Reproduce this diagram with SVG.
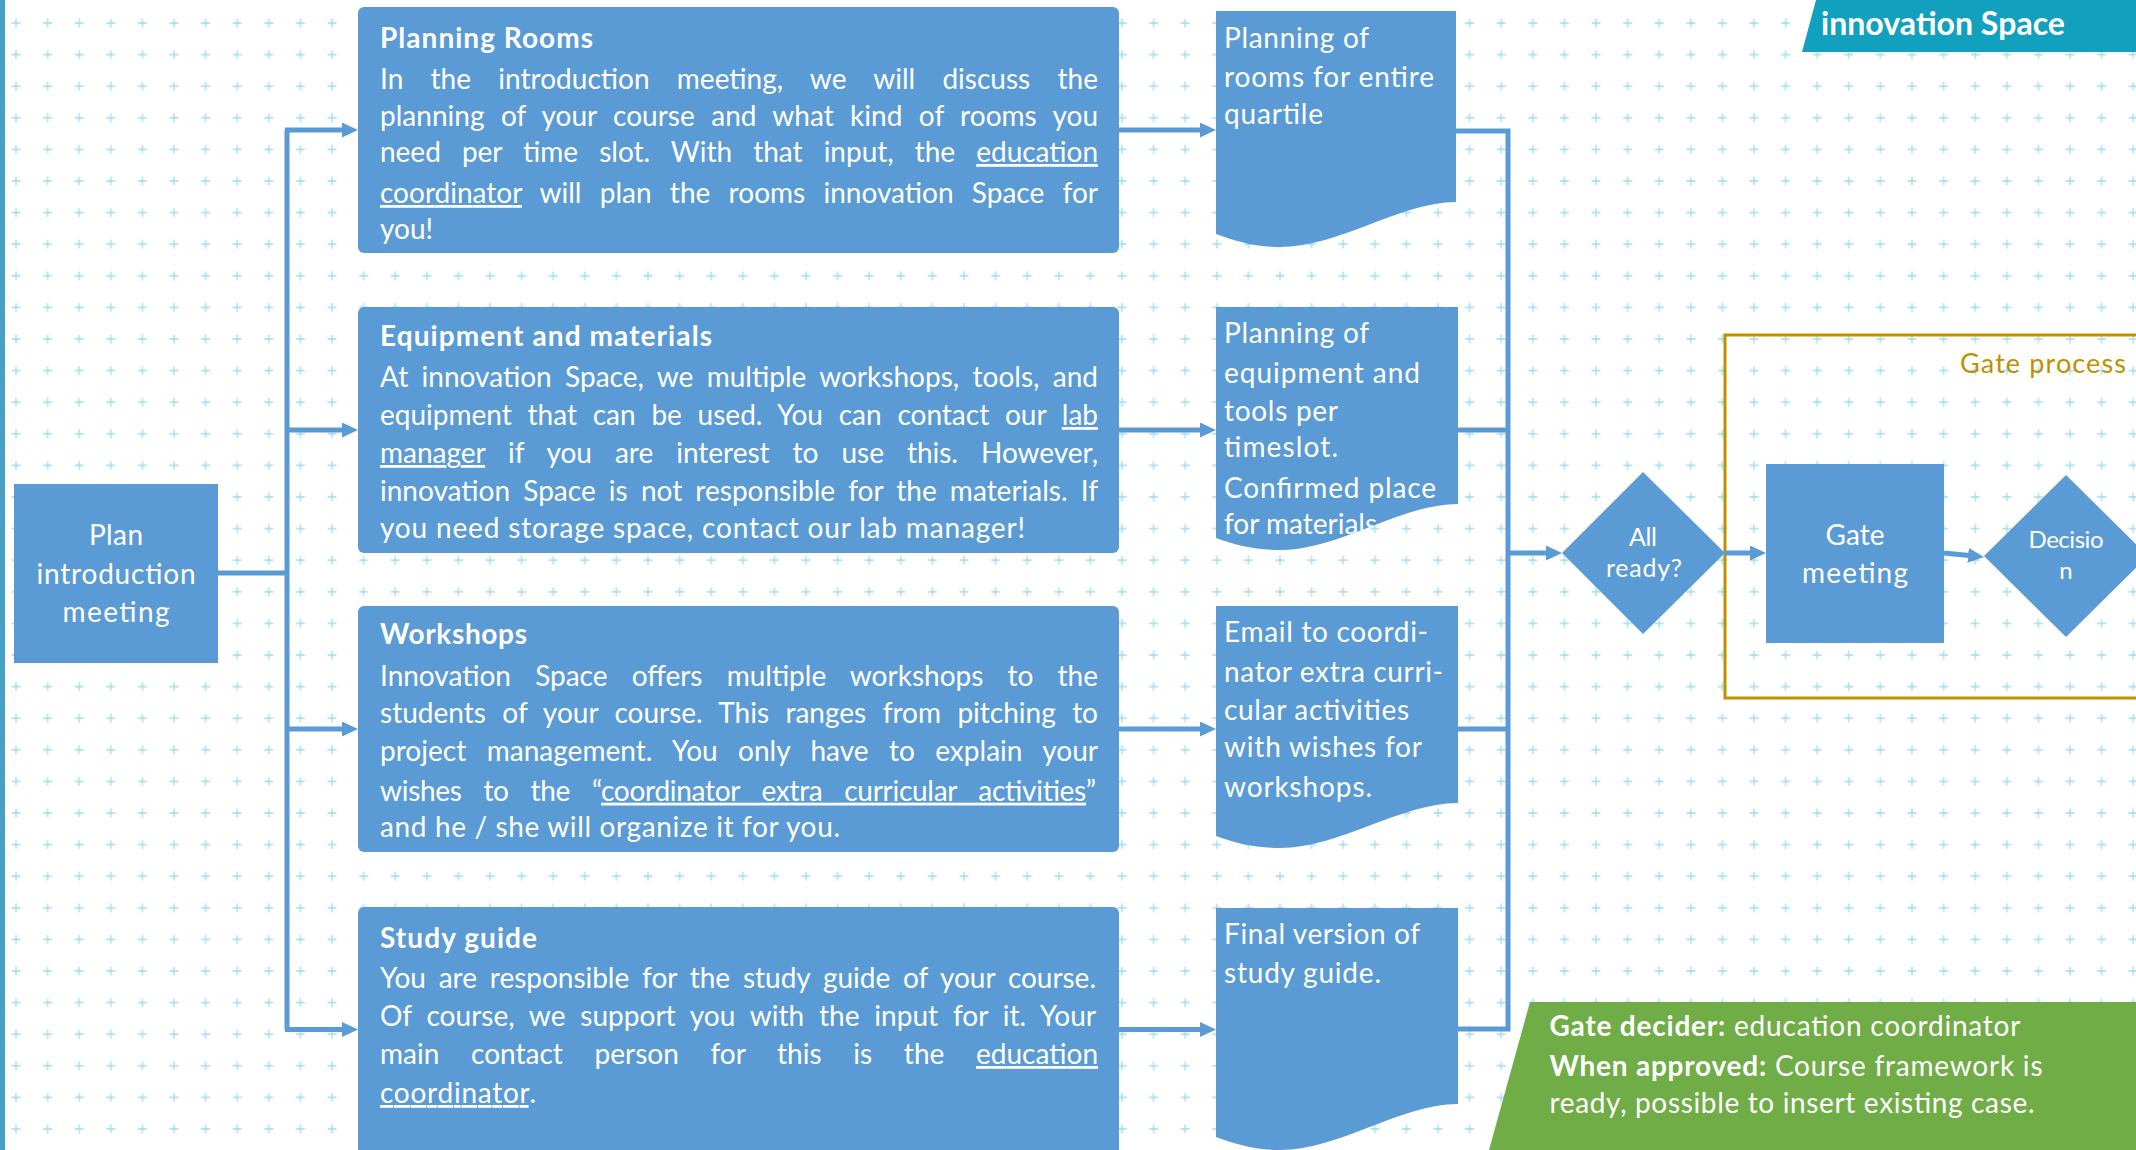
<svg xmlns="http://www.w3.org/2000/svg" width="2136" height="1150" viewBox="0 0 2136 1150">
<style>
.t{font-family:Lato,"Liberation Sans",sans-serif;font-size:28px;fill:#fff}
.b{font-weight:bold}
.c{text-anchor:middle}
.u{text-decoration:underline}
.box{fill:#5b9bd5}
.ln{fill:none;stroke:#5b9bd5;stroke-width:5}
.ar{marker-end:url(#ah)}
</style>
<defs>
<pattern id="grid" x="0.2" y="7.2" width="31.6" height="31.6" patternUnits="userSpaceOnUse">
<path d="M11.3,15.8H20.3M15.8,11.3V20.3" stroke="#9fdcf0" stroke-width="1.3" fill="none"/>
</pattern>
<marker id="ah" markerUnits="userSpaceOnUse" markerWidth="16" markerHeight="15" refX="6" refY="7.5" orient="auto">
<path d="M0,0L16,7.5L0,15Z" fill="#5b9bd5"/>
</marker>
<clipPath id="cd2"><path d="M1216,307H1458V504C1400,504 1340,550 1280,550C1255,550 1235,545 1216,538Z"/></clipPath>
</defs>
<rect width="2136" height="1150" fill="#fff"/>
<rect width="2136" height="1150" fill="url(#grid)"/>
<rect x="0" y="0" width="5" height="1150" fill="#46a0c4"/>

<g id="banner">
<polygon points="1816,0 2136,0 2136,52 1802,52" fill="#12a0bf"/>
<text class="t b" x="1821" y="35" style="font-size:32px" textLength="244" lengthAdjust="spacingAndGlyphs">innovation Space</text>
</g>

<g id="gate-process">
<rect x="1725" y="335" width="500" height="363" fill="none" stroke="#bf9000" stroke-width="3"/>
<text class="t" x="1960" y="373" style="fill:#bf9000;font-size:27px" textLength="166">Gate process</text>
</g>

<g id="connectors">
<path class="ln" d="M218,573H287"/>
<path class="ln" d="M287,130V1030"/>
<path class="ln ar" d="M285,130H348"/>
<path class="ln ar" d="M285,430H348"/>
<path class="ln ar" d="M285,729H348"/>
<path class="ln ar" d="M285,1029.5H348"/>
<path class="ln ar" d="M1119,130H1206"/>
<path class="ln ar" d="M1119,430H1206"/>
<path class="ln ar" d="M1119,729H1206"/>
<path class="ln ar" d="M1119,1029.5H1206"/>
<path class="ln" d="M1456,131H1508V1029H1458"/>
<path class="ln" d="M1458,430H1508"/>
<path class="ln" d="M1458,729H1508"/>
<path class="ln ar" d="M1506,553H1552"/>
<path class="ln ar" d="M1725,553H1756"/>
<path class="ln ar" d="M1944,553L1974,556"/>
</g>

<g id="plan-intro">
<rect class="box" x="14" y="484" width="204" height="179"/>
<text class="t c" x="116" y="545" textLength="54">Plan</text>
<text class="t c" x="116" y="584" textLength="159">introduction</text>
<text class="t c" x="116" y="622" textLength="107">meeting</text>
</g>

<g id="planning-rooms">
<rect class="box" x="358" y="7" width="761" height="246" rx="6"/>
<text class="t b" x="380" y="48" textLength="213">Planning Rooms</text>
<text class="t" x="380" y="89" style="word-spacing:20.1px" textLength="718">In the introduction meeting, we will discuss the</text>
<text class="t" x="380" y="125.5" style="word-spacing:9.2px" textLength="718">planning of your course and what kind of rooms you</text>
<text class="t" x="380" y="162" style="word-spacing:14px" textLength="718">need per time slot. With that input, the <tspan class="u">education</tspan></text>
<text class="t" x="380" y="203" style="word-spacing:11.1px" textLength="718"><tspan class="u">coordinator</tspan> will plan the rooms innovation Space for</text>
<text class="t" x="380" y="239">you!</text>
</g>

<g id="equipment">
<rect class="box" x="358" y="307" width="761" height="246" rx="6"/>
<text class="t b" x="380" y="346" textLength="332">Equipment and materials</text>
<text class="t" x="380" y="387" style="word-spacing:6.2px" textLength="718">At innovation Space, we multiple workshops, tools, and</text>
<text class="t" x="380" y="425" style="word-spacing:8.6px" textLength="718">equipment that can be used. You can contact our <tspan class="u">lab</tspan></text>
<text class="t" x="380" y="463" style="word-spacing:15.9px" textLength="718"><tspan class="u">manager</tspan> if you are interest to use this. However,</text>
<text class="t" x="380" y="500.5" style="word-spacing:6px" textLength="718">innovation Space is not responsible for the materials. If</text>
<text class="t" x="380" y="538" textLength="645">you need storage space, contact our lab manager!</text>
</g>

<g id="workshops">
<rect class="box" x="358" y="606" width="761" height="246" rx="6"/>
<text class="t b" x="380" y="644" textLength="147">Workshops</text>
<text class="t" x="380" y="686" style="word-spacing:17px" textLength="718">Innovation Space offers multiple workshops to the</text>
<text class="t" x="380" y="723" style="word-spacing:9.2px" textLength="718">students of your course. This ranges from pitching to</text>
<text class="t" x="380" y="760.5" style="word-spacing:13.2px" textLength="718">project management. You only have to explain your</text>
<text class="t" x="380" y="800.7" style="word-spacing:14.9px" textLength="716">wishes to the “<tspan class="u">coordinator extra curricular activities</tspan>”</text>
<text class="t" x="380" y="837" textLength="460">and he / she will organize it for you.</text>
</g>

<g id="study-guide">
<rect class="box" x="358" y="907" width="761" height="260" rx="6"/>
<text class="t b" x="380" y="948" textLength="157">Study guide</text>
<text class="t" x="380" y="988" style="word-spacing:5.7px" textLength="716">You are responsible for the study guide of your course.</text>
<text class="t" x="380" y="1026" style="word-spacing:7.7px" textLength="716">Of course, we support you with the input for it. Your</text>
<text class="t" x="380" y="1064" style="word-spacing:24.5px" textLength="718">main contact person for this is the <tspan class="u">education</tspan></text>
<text class="t" x="380" y="1103" textLength="156"><tspan class="u">coordinator</tspan>.</text>
</g>

<g id="doc-rooms">
<path class="box" d="M1216,11H1456V202C1400,202 1340,247 1280,247C1255,247 1235,241 1216,234Z"/>
<text class="t" x="1224" y="48" textLength="145">Planning of</text>
<text class="t" x="1224" y="87" textLength="210">rooms for entire</text>
<text class="t" x="1224" y="124" textLength="99">quartile</text>
</g>

<g id="doc-equipment">
<path class="box" d="M1216,307H1458V504C1400,504 1340,550 1280,550C1255,550 1235,545 1216,538Z"/>
<text class="t" x="1224" y="342.5" textLength="145">Planning of</text>
<text class="t" x="1224" y="383" textLength="196">equipment and</text>
<text class="t" x="1224" y="421" textLength="114">tools per</text>
<text class="t" x="1224" y="457" textLength="114">timeslot.</text>
<text class="t" x="1224" y="497.5" textLength="212">Confirmed place</text>
<text class="t" x="1224" y="534" clip-path="url(#cd2)">for materials.</text>
</g>

<g id="doc-workshops">
<path class="box" d="M1216,606H1458V803C1400,803 1340,848 1280,848C1255,848 1235,843 1216,836Z"/>
<text class="t" x="1224" y="642" textLength="204">Email to coordi-</text>
<text class="t" x="1224" y="682" textLength="219">nator extra curri-</text>
<text class="t" x="1224" y="719.5" textLength="185">cular activities</text>
<text class="t" x="1224" y="756.6" textLength="198">with wishes for</text>
<text class="t" x="1224" y="797" textLength="148">workshops.</text>
</g>

<g id="doc-study">
<path class="box" d="M1216,908H1458V1104C1400,1104 1340,1150 1280,1150C1255,1150 1235,1144 1216,1137Z"/>
<text class="t" x="1224" y="944" textLength="196">Final version of</text>
<text class="t" x="1224" y="982.5" textLength="157">study guide.</text>
</g>

<g id="all-ready">
<polygon class="box" points="1643,472 1725,553 1643,634 1562,553"/>
<text class="t c" x="1643" y="546" style="font-size:25px" textLength="28">All</text>
<text class="t c" x="1644" y="577" style="font-size:25px" textLength="76">ready?</text>
</g>

<g id="gate-meeting">
<rect class="box" x="1766" y="464" width="178" height="179"/>
<text class="t c" x="1855" y="545" textLength="59">Gate</text>
<text class="t c" x="1855" y="583" textLength="106">meeting</text>
</g>

<g id="decision">
<polygon class="box" points="2066,475 2148,556 2066,637 1984,556"/>
<text class="t c" x="2066" y="548" style="font-size:24px" textLength="75">Decisio</text>
<text class="t c" x="2066" y="579" style="font-size:24px">n</text>
</g>

<g id="gate-info">
<polygon points="1530,1002 2136,1002 2136,1150 1489,1150" fill="#70ad47"/>
<text class="t" x="1549.5" y="1036" textLength="471"><tspan class="b">Gate decider:</tspan> education coordinator</text>
<text class="t" x="1549.5" y="1076" textLength="493"><tspan class="b">When approved:</tspan> Course framework is</text>
<text class="t" x="1549.5" y="1112.6" textLength="485">ready, possible to insert existing case.</text>
</g>
</svg>
